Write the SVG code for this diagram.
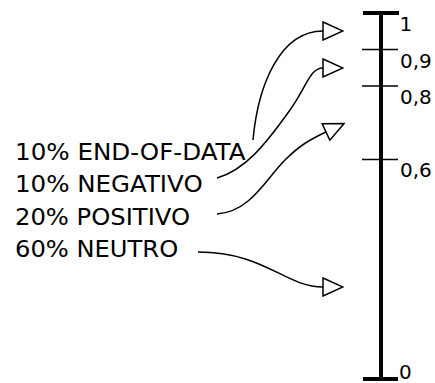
<svg xmlns="http://www.w3.org/2000/svg" width="435" height="383" viewBox="0 0 435 383">
  <style>
    .label { font-family: "DejaVu Sans", "Liberation Sans", sans-serif; font-size: 22.5px; fill: #000; }
    .tick-label { font-family: "DejaVu Sans", "Liberation Sans", sans-serif; font-size: 20px; fill: #000; }
    .flow { fill: none; stroke: #000; stroke-width: 1.5; marker-end: url(#open-arrow); }
    .axis { stroke: #000; stroke-width: 4; fill: none; }
    .tick { stroke: #000; stroke-width: 1.3; fill: none; }
  </style>
  <defs>
    <marker id="open-arrow" markerUnits="userSpaceOnUse" viewBox="-1 -1 22 20" refX="0" refY="9" markerWidth="22" markerHeight="20" orient="auto">
      <path d="M0,0 L20,9 L0,18 Z" fill="#fff" stroke="#000" stroke-width="1.5" stroke-linejoin="miter"/>
    </marker>
  </defs>
  <rect width="435" height="383" fill="#fff"/>

  <!-- probability scale from 0 to 1 -->
  <g id="scale">
    <line class="axis" x1="381" y1="13" x2="381" y2="379"/>
    <line class="axis" x1="363" y1="13" x2="399" y2="13"/>
    <line class="axis" x1="363" y1="379" x2="398" y2="379"/>
    <line class="tick" x1="362" y1="49.5" x2="398" y2="49.5"/>
    <line class="tick" x1="362" y1="86" x2="398" y2="86"/>
    <line class="tick" x1="362" y1="159.5" x2="398" y2="159.5"/>
    <text class="tick-label" x="399.5" y="31">1</text>
    <text class="tick-label" x="400" y="67.5">0,9</text>
    <text class="tick-label" x="400" y="104">0,8</text>
    <text class="tick-label" x="400" y="177">0,6</text>
    <text class="tick-label" x="399" y="379">0</text>
  </g>

  <!-- outcome labels -->
  <g id="end-of-data">
    <text class="label" x="15" y="159.5" textLength="230.5" lengthAdjust="spacingAndGlyphs">10% END-OF-DATA</text>
  </g>
  <g id="negativo">
    <text class="label" x="15" y="192" textLength="187.7" lengthAdjust="spacingAndGlyphs">10% NEGATIVO</text>
  </g>
  <g id="positivo">
    <text class="label" x="15" y="224.5" textLength="175.1" lengthAdjust="spacingAndGlyphs">20% POSITIVO</text>
  </g>
  <g id="neutro">
    <text class="label" x="15" y="257" textLength="163.2" lengthAdjust="spacingAndGlyphs">60% NEUTRO</text>
  </g>

  <!-- mapping of each outcome onto its interval of the scale -->
  <g id="connectors">
    <path class="flow" d="M253,140 C258,85 280,31 323,31"/>
    <path class="flow" d="M217,178 C245,170 265,145 290,110 C307,86 310,68 323,68"/>
    <path class="flow" d="M217,214 C250,212 265,180 285,160 C300,145 311,139 326,132"/>
    <path class="flow" d="M198,252 C265,252 285,287 323,287"/>
  </g>
</svg>
